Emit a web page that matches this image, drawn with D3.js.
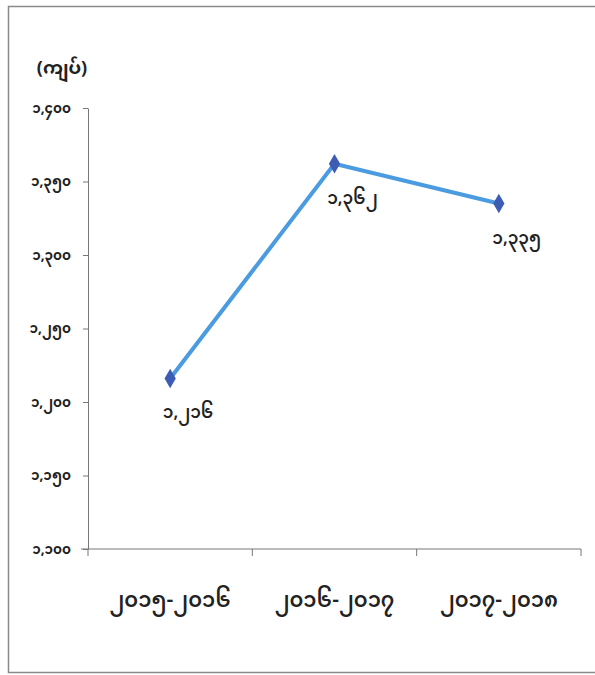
<!DOCTYPE html>
<html><head><meta charset="utf-8">
<script src="https://cdn.jsdelivr.net/npm/d3@7"></script>
<style>
body{margin:0;background:#fff;}
text{font-family:"Noto Sans Myanmar","Padauk","Myanmar Text","Noto Sans",sans-serif;fill:#222;}
</style></head>
<body>
<svg id="c" width="595" height="675"></svg>
<script>
const categories = ["၂၀၁၅-၂၀၁၆", "၂၀၁၆-၂၀၁၇", "၂၀၁၇-၂၀၁၈"];
const values = [1216, 1362, 1335];
const valueLabels = ["၁,၂၁၆", "၁,၃၆၂", "၁,၃၃၅"];
const yTicks = [1100, 1150, 1200, 1250, 1300, 1350, 1400];
const yTickLabels = ["၁,၁၀၀", "၁,၁၅၀", "၁,၂၀၀", "၁,၂၅၀", "၁,၃၀၀", "၁,၃၅၀", "၁,၄၀၀"];
const unitLabel = "(ကျပ်)";

const svg = d3.select("#c");
svg.append("rect").attr("x", 8.5).attr("y", 6.5).attr("width", 600).attr("height", 666)
  .attr("fill", "#fff").attr("stroke", "#8a8a8a").attr("stroke-width", 1.5);

const mL = 88, mR = 581, mT = 108, mB = 549;
const x = d3.scaleBand().domain(categories).range([mL, mR]);
const y = d3.scaleLinear().domain([1100, 1400]).range([mB, mT]);

// y axis
const ya = svg.append("g").attr("transform", `translate(${mL},0)`)
  .call(d3.axisLeft(y).tickValues(yTicks).tickSize(5).tickSizeOuter(0)
    .tickFormat((d, i) => yTickLabels[i]));
ya.select(".domain").attr("stroke", "#777");
ya.selectAll(".tick line").attr("stroke", "#777");
ya.selectAll(".tick text").attr("x", -17).attr("font-size", 13.5).attr("font-weight", "bold").attr("fill", "#222");

// x axis
const xa = svg.append("g").attr("transform", `translate(0,${mB})`)
  .call(d3.axisBottom(x).tickSize(0).tickSizeOuter(0));
xa.select(".domain").attr("stroke", "#777").attr("d", `M${mL - 7},0H${mR}`);
xa.selectAll(".tick text").attr("dy", null).attr("y", 58).attr("font-size", 21)
  .attr("font-weight", 600).attr("fill", "#222");
const bounds = [mL, ...categories.map(c => x(c) + x.bandwidth())];
xa.selectAll(".bt").data(bounds).enter().append("line").attr("class", "bt")
  .attr("x1", d => d).attr("x2", d => d).attr("y1", 0).attr("y2", 7).attr("stroke", "#777");

// unit
svg.append("text").attr("x", 62).attr("y", 74).attr("text-anchor", "middle")
  .attr("font-size", 18).attr("font-weight", "bold").attr("fill", "#2a2018").text(unitLabel);

// line
const cx = d => x(d) + x.bandwidth() / 2;
const line = d3.line().x((d, i) => cx(categories[i])).y(d => y(d));
svg.append("path").datum(values).attr("d", line).attr("fill", "none")
  .attr("stroke", "#4a9be0").attr("stroke-width", 4);

svg.selectAll(".m").data(values).enter().append("path").attr("class", "m")
  .attr("d", d3.symbol().type(d3.symbolDiamond).size(110))
  .attr("transform", (d, i) => `translate(${cx(categories[i])},${y(d)})`)
  .attr("fill", "#3d5db5");

svg.selectAll(".vl").data(values).enter().append("text").attr("class", "vl")
  .attr("x", (d, i) => cx(categories[i]) + 18)
  .attr("y", d => y(d) + 40)
  .attr("text-anchor", "middle").attr("font-size", 17).attr("font-weight", 600)
  .text((d, i) => valueLabels[i]);
</script>
</body></html>
